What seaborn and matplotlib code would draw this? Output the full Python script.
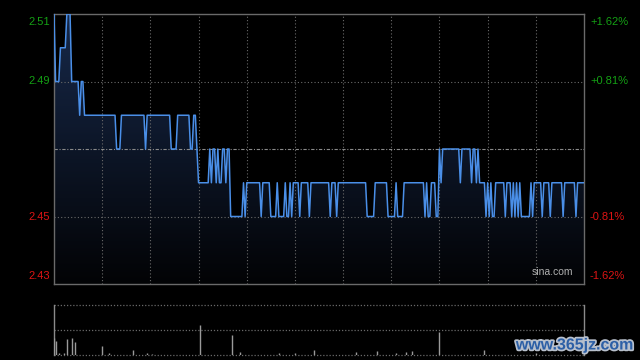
import numpy as np
import pandas as pd
import matplotlib
matplotlib.use("Agg")
import matplotlib.pyplot as plt
import seaborn as sns
from matplotlib import patheffects

sns.set_theme(style="white")
plt.rcParams["font.family"] = ["Liberation Sans", "DejaVu Sans"]

# ---------------- data ----------------
# intraday price: minute index where a new price level starts, and that level
seg_start = [0, 1, 4, 8, 11, 16, 17, 19, 39, 42,
             57, 58, 73, 77, 85, 87, 89, 90, 97, 98,
             99, 101, 102, 103, 105, 107, 108, 110, 118, 119,
             120, 129, 130, 135, 139, 140, 144, 145, 147, 148,
             149, 153, 154, 159, 160, 172, 173, 176, 177, 195,
             200, 208, 213, 214, 218, 231, 232, 233, 235, 238,
             240, 241, 242, 253, 254, 260, 261, 263, 264, 265,
             269, 270, 271, 272, 273, 275, 281, 282, 285, 286,
             287, 288, 289, 290, 291, 297, 298, 299, 304, 305,
             309, 310, 317, 318, 325, 326]
seg_price = [2.51, 2.49, 2.50, 2.51, 2.49, 2.48, 2.49, 2.48, 2.47, 2.48,
             2.47, 2.48, 2.47, 2.48, 2.47, 2.48, 2.47, 2.46, 2.47, 2.46,
             2.47, 2.46, 2.47, 2.46, 2.47, 2.46, 2.47, 2.45, 2.46, 2.45,
             2.46, 2.45, 2.46, 2.45, 2.46, 2.45, 2.46, 2.45, 2.46, 2.45,
             2.46, 2.45, 2.46, 2.45, 2.46, 2.45, 2.46, 2.45, 2.46, 2.45,
             2.46, 2.45, 2.46, 2.45, 2.46, 2.45, 2.46, 2.45, 2.46, 2.45,
             2.47, 2.46, 2.47, 2.46, 2.47, 2.46, 2.47, 2.46, 2.47, 2.46,
             2.45, 2.46, 2.45, 2.46, 2.45, 2.46, 2.45, 2.46, 2.45, 2.46,
             2.45, 2.46, 2.45, 2.46, 2.45, 2.46, 2.45, 2.46, 2.45, 2.46,
             2.45, 2.46, 2.45, 2.46, 2.45, 2.46]
n_minutes = 331
prev_close = 2.47

left_ticks = [2.51, 2.49, 2.45, 2.43]
left_labels = ["2.51", "2.49", "2.45", "2.43"]
right_labels = ["+1.62%", "+0.81%", "-0.81%", "-1.62%"]

# volume (relative units, panel top = 100)
vol_minute = [0, 1, 3, 6, 8, 11, 13, 30, 34, 49, 58, 61, 91, 111, 116,
              140, 150, 162, 188, 201, 213, 219, 223, 240, 268, 300]
vol_value = [35, 28, 4, 4, 32, 35, 26, 18, 4, 10, 4, 3, 60, 40, 7,
             4, 4, 10, 7, 8, 4, 7, 9, 46, 10, 4]

# ---------------- build frame ----------------
durations = np.diff(seg_start + [n_minutes])
df = pd.DataFrame({"minute": np.arange(n_minutes),
                   "price": np.repeat(seg_price, durations)})

W, H = 640, 360
fig = plt.figure(figsize=(6.4, 3.6), dpi=100, facecolor="black")
ax = fig.add_axes([54 / W, 1 - 284 / H, 530 / W, 270 / H])
ax.set_facecolor("black")
ax.set_xlim(0, n_minutes - 1)
ax.set_ylim(2.43, 2.51)

# gradient area under the line
poly = ax.fill_between(df["minute"], df["price"], 2.43, color="none", lw=0)
t = np.linspace(1, 0, 256)[:, None, None]
top_c = np.array([0.09, 0.16, 0.29])
bot_c = np.array([0.01, 0.012, 0.02])
img = bot_c + (top_c - bot_c) * t
im = ax.imshow(img, extent=[0, n_minutes - 1, 2.43, 2.51], aspect="auto",
               origin="upper", zorder=1, interpolation="bilinear")
im.set_clip_path(poly.get_paths()[0], transform=ax.transData)

# grid
grid_c = "#6a6a6a"
for y in [2.49, 2.45]:
    ax.axhline(y, color=grid_c, lw=0.8, ls=(0, (1, 2)), zorder=2)
ax.axhline(prev_close, color="#8a8a8a", lw=0.8, ls=(0, (3, 1.5, 1, 1.5)), zorder=2)
for xm in range(30, 301, 30):
    ax.axvline(xm, color=grid_c, lw=0.8, ls=(0, (1, 2)), zorder=2)

sns.lineplot(data=df, x="minute", y="price", color="#4a8fe8", lw=1.1,
             ax=ax, zorder=3)

ax.set_xticks([])
ax.set_yticks([])
ax.set_xlabel("")
ax.set_ylabel("")
for s in ax.spines.values():
    s.set_visible(True)
    s.set_color("#6a6a6a")
    s.set_linewidth(1)

ytr = ax.get_yaxis_transform()
for y, lab, rlab in zip(left_ticks, left_labels, right_labels):
    col = "#14a014" if y > prev_close else "#dd1414"
    va = "top" if y == 2.51 else ("bottom" if y == 2.43 else "center")
    dy = -0.0008 if y == 2.51 else (0.0008 if y == 2.43 else 0)
    ax.text(-4 / 530, y + dy, lab, transform=ytr, ha="right", va=va,
            color=col, fontsize=8)
    ax.text(1 + 6 / 530, y + dy, rlab, transform=ytr, ha="left", va=va,
            color=col, fontsize=8)

ax.text(0.98, 0.025, "sina.com", transform=ax.transAxes, ha="right",
        va="bottom", color="#b0b0b0", fontsize=7.5)

# ---------------- volume panel ----------------
ax2 = fig.add_axes([54 / W, 5 / H, 530 / W, 50 / H])
ax2.set_facecolor("black")
ax2.set_xlim(0, n_minutes - 1)
ax2.set_ylim(0, 100)
ax2.vlines(vol_minute, 0, vol_value, color="#9a9a9a", lw=1.0, zorder=3)
for y in [100, 50, 0]:
    ax2.axhline(y, color=grid_c, lw=0.9, ls=(0, (1, 1.5)), zorder=2, clip_on=False)
ax2.set_xticks([])
ax2.set_yticks([])
for name, s in ax2.spines.items():
    if name in ("left", "right"):
        s.set_visible(True)
        s.set_color("#8a8a8a")
        s.set_linewidth(1)
    else:
        s.set_visible(False)

fig.text(575 / W, 1 - 345 / H, "www.365jz.com", ha="center", va="center",
         fontsize=11.5, fontweight="bold", color="#2c5fa6",
         path_effects=[patheffects.withStroke(linewidth=2.5, foreground="#b8c0cc")])

fig.savefig("out.png", dpi=100, facecolor="black")
